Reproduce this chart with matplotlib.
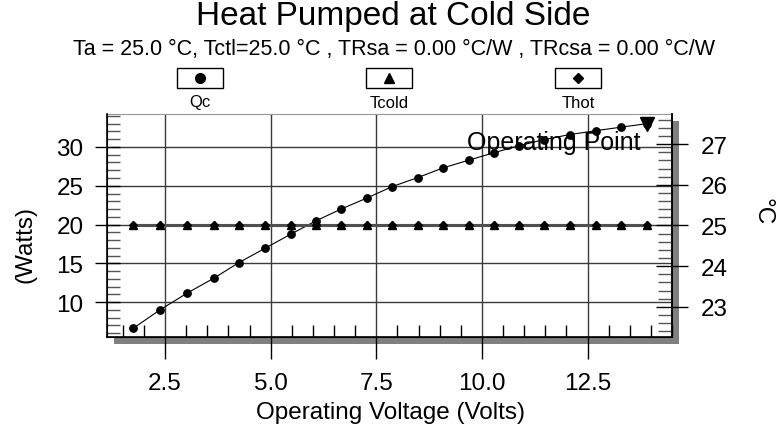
#!/usr/bin/env python3
import matplotlib

matplotlib.use("Agg", force=True)
import matplotlib.pyplot as plt
from matplotlib.lines import Line2D
from matplotlib.patches import Rectangle
from matplotlib.ticker import MultipleLocator
import matplotlib.transforms as mtransforms

plt.rcParams["font.family"] = ["Liberation Sans", "DejaVu Sans"]

# operating voltage (V)
volts = [1.74, 2.38, 3.02, 3.66, 4.25, 4.87, 5.49, 6.08, 6.67, 7.29, 7.88,
         8.48, 9.08, 9.69, 10.28, 10.87, 11.47, 12.08, 12.70, 13.29, 13.90]
# heat pumped at cold side (W)
qc = [6.6, 9.0, 11.15, 13.1, 15.1, 16.95, 18.8, 20.5, 22.0, 23.45, 24.9,
      26.05, 27.3, 28.3, 29.25, 30.15, 30.95, 31.6, 32.1, 32.55, 33.0]
# cold / hot side temperature (deg C)
tcold = [25.0] * 21
thot = [25.0] * 21

op_volts = 13.90
op_qc = 33.0

x_ticks = [2.5, 5.0, 7.5, 10.0, 12.5]
w_ticks = [10, 15, 20, 25, 30]
c_ticks = [23, 24, 25, 26, 27]

legend_names = ["Qc", "Tcold", "Thot"]
legend_marks = ["o", "^", "D"]

W, H = 783, 427


def px(x, y):
    return x / W, 1 - y / H


fig = plt.figure(figsize=(W / 100, H / 100), dpi=100)
left, right, top, bottom = 107, 672, 115, 338
ax = fig.add_axes([left / W, 1 - bottom / H, (right - left) / W, (bottom - top) / H])

# drop shadow behind the plot box
shadow = Rectangle((0, 0), 1, 1, transform=ax.transAxes + mtransforms.ScaledTranslation(7 / 100, -7 / 100, fig.dpi_scale_trans),
                   facecolor="#808080", edgecolor="none", zorder=-5, clip_on=False)
fig.add_artist(shadow)
ax.set_facecolor("white")

ax.plot(volts, qc, color="black", lw=0.8, marker="o", ms=5.3, zorder=4)
ax.plot([op_volts], [op_qc], marker="v", ms=10, color="black", ls="none", zorder=5)
ax.annotate("Operating Point", xy=(op_volts, op_qc), xytext=(-4.5, -13), textcoords="offset points",
            ha="right", va="center", fontsize=18, zorder=6)

ax.set_xlim(1.125, 14.5)
ax.set_ylim(5.5, 34.25)
ax.set_xticks(x_ticks)
ax.set_xticklabels([f"{v:.1f}" for v in x_ticks])
ax.set_yticks(w_ticks)
ax.xaxis.set_minor_locator(MultipleLocator(0.5))
ax.yaxis.set_minor_locator(MultipleLocator(1))
ax.tick_params(axis="x", which="major", direction="out", length=16, width=1, pad=9, labelsize=17.5)
ax.tick_params(axis="x", which="minor", direction="in", length=8.6, width=1)
ax.tick_params(axis="y", which="major", direction="inout", length=18, width=1, pad=8, labelsize=17.5)
ax.tick_params(axis="y", which="minor", direction="in", length=9.4, width=1, color="#555555")
ax.grid(True, which="major", color="#3a3a3a", lw=1)
ax.set_axisbelow(True)
for side in ["left", "bottom", "right"]:
    ax.spines[side].set_color("black")
    ax.spines[side].set_linewidth(1.2)
ax.spines["top"].set_color("#999999")
ax.spines["top"].set_linewidth(0.8)

ax2 = ax.twinx()
ax2.plot(volts, tcold, color="#505050", lw=2.2, marker="^", ms=5.5, mfc="black", mec="black", zorder=3)
ax2.plot(volts, thot, color="#505050", lw=2.2, marker="D", ms=4.2, mfc="black", mec="black", zorder=3)
ax2.set_ylim(22.26, 27.74)
ax2.set_yticks(c_ticks)
ax2.yaxis.set_minor_locator(MultipleLocator(0.2))
ax2.tick_params(axis="y", which="major", direction="inout", length=23, width=1, pad=9, labelsize=17.5)
ax2.tick_params(axis="y", which="minor", direction="in", length=10, width=1, color="#555555")
ax2.spines["right"].set_linewidth(1.2)
ax2.spines["top"].set_visible(False)

# titles and axis labels
fig.text(*px(393, 17), "Heat Pumped at Cold Side", ha="center", va="center", fontsize=24)
fig.text(*px(394, 49), "Ta = 25.0 \u00b0C, Tctl=25.0 \u00b0C , TRsa = 0.00 \u00b0C/W , TRcsa = 0.00 \u00b0C/W",
         ha="center", va="center", fontsize=15.5)
fig.text(*px(390, 413), "Operating Voltage (Volts)", ha="center", va="center", fontsize=17.5)
fig.text(*px(25, 245), "(Watts)", ha="center", va="center", rotation=90, fontsize=17.5)
fig.text(*px(762, 212), "\u00b0C", ha="center", va="center", rotation=270, fontsize=17.5)

# legend boxes along the top
for name, mark, bx in zip(legend_names, legend_marks, [177, 366, 555]):
    x0, y0 = px(bx, 89)
    fig.add_artist(Rectangle((x0, y0), 46 / W, 20 / H, transform=fig.transFigure,
                             facecolor="white", edgecolor="black", lw=1))
    cx, cy = px(bx + 23, 79)
    fig.add_artist(Line2D([cx], [cy], marker=mark, ms=7 if mark != "D" else 5.5, color="black",
                          transform=fig.transFigure))
    lx, ly = px(bx + 23, 103)
    fig.text(lx, ly, name, ha="center", va="center", fontsize=12)

fig.savefig("out.png", dpi=100)
